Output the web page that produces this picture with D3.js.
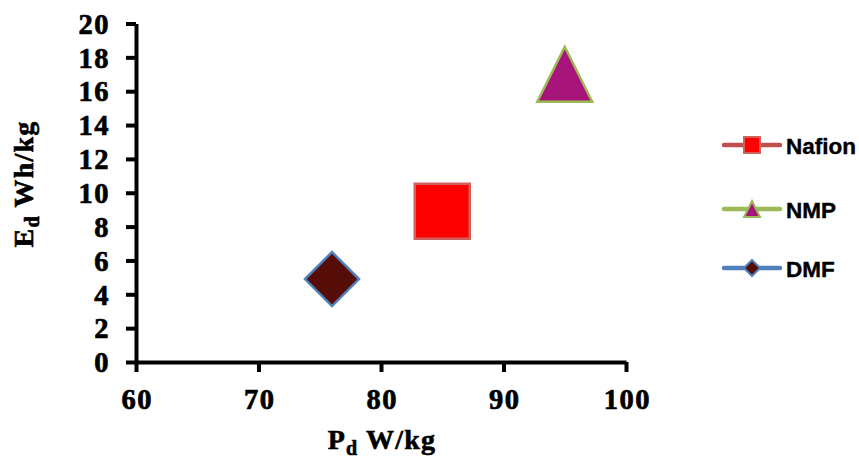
<!DOCTYPE html>
<html>
<head>
<meta charset="utf-8">
<script src="https://cdn.jsdelivr.net/npm/d3@7"></script>
<style>
  html, body { margin: 0; padding: 0; background: #fff; }
  svg { display: block; }
</style>
</head>
<body>
<svg id="chart" width="859" height="466"></svg>
<script>
// ---- data ----
const seriesNames = ["Nafion", "NMP", "DMF"];
const powerDensity = [85, 95, 76];      // P_d W/kg
const energyDensity = [8.9, 17, 4.9];   // E_d Wh/kg
const xTicks = [60, 70, 80, 90, 100];
const yTicks = [0, 2, 4, 6, 8, 10, 12, 14, 16, 18, 20];

// ---- styles ----
const fills   = { Nafion: "#FF0000", NMP: "#A8157A", DMF: "#560D07" };
const strokes = { Nafion: "#D0605C", NMP: "#9BBB59", DMF: "#4F81BD" };
const lines   = { Nafion: "#C0504D", NMP: "#9BBB59", DMF: "#4F81BD" };
const shapes  = { Nafion: "square", NMP: "triangle", DMF: "diamond" };

const svg = d3.select("#chart");
const x = d3.scaleLinear().domain([60, 100]).range([136, 626]);
const y = d3.scaleLinear().domain([0, 20]).range([362, 23.5]);

function shapePath(kind, s) {
  const p = d3.path(), h = s / 2;
  if (kind === "square") {
    p.rect(-h, -h, s, s);
  } else if (kind === "triangle") {
    p.moveTo(0, -h); p.lineTo(h, h); p.lineTo(-h, h); p.closePath();
  } else {
    p.moveTo(0, -h); p.lineTo(h, 0); p.lineTo(0, h); p.lineTo(-h, 0); p.closePath();
  }
  return p.toString();
}

// axes
const serif = "'Liberation Serif','Times New Roman',serif";
const xAxis = svg.append("g").attr("transform", `translate(0,${y(0)})`)
  .call(d3.axisBottom(x).tickValues(xTicks).tickSize(10).tickSizeOuter(0).tickPadding(10));
const yAxis = svg.append("g").attr("transform", `translate(${x(60)},0)`)
  .call(d3.axisLeft(y).tickValues(yTicks).tickSize(10).tickSizeOuter(0).tickPadding(16));
[xAxis, yAxis].forEach(a => {
  a.select(".domain").attr("stroke", "#000").attr("stroke-width", 4);
  a.selectAll(".tick line").attr("stroke", "#000").attr("stroke-width", 4);
  a.selectAll(".tick text").attr("fill", "#000").attr("stroke", "#000").attr("stroke-width", 0.7)
    .style("font-family", serif).style("font-weight", "bold").style("font-size", "28.5px")
    .style("letter-spacing", "1.5px");
});
xAxis.selectAll(".tick text").attr("dy", "0.95em").attr("dx", "0.75");
yAxis.selectAll(".tick text").attr("dy", "0.34em");

// axis titles
const xt = svg.append("text").attr("x", 382).attr("y", 449).attr("text-anchor", "middle")
  .attr("stroke", "#000").attr("stroke-width", 0.6)
  .style("font-family", serif).style("font-weight", "bold").style("font-size", "28px")
  .style("letter-spacing", "1.2px");
xt.append("tspan").text("P");
xt.append("tspan").attr("dy", 6).style("font-size", "20px").text("d");
xt.append("tspan").attr("dy", -6).text(" W/kg");

const yt = svg.append("text").attr("transform", "translate(33,184) rotate(-90)")
  .attr("text-anchor", "middle")
  .attr("stroke", "#000").attr("stroke-width", 0.6)
  .style("font-family", serif).style("font-weight", "bold").style("font-size", "28px")
  .style("letter-spacing", "1.2px");
yt.append("tspan").text("E");
yt.append("tspan").attr("dy", 6).style("font-size", "20px").text("d");
yt.append("tspan").attr("dy", -6).text(" Wh/kg");

// markers
const sizes = { square: 55, triangle: 55, diamond: 54 };
seriesNames.forEach((name, i) => {
  svg.append("path")
    .attr("d", shapePath(shapes[name], sizes[shapes[name]]))
    .attr("transform", `translate(${x(powerDensity[i])},${y(energyDensity[i])})`)
    .attr("fill", fills[name]).attr("stroke", strokes[name]).attr("stroke-width", 2.5);
});

// legend
const legendY = [145, 209, 268];
const lg = svg.append("g");
seriesNames.forEach((name, i) => {
  const g = lg.append("g").attr("transform", `translate(0,${legendY[i]})`);
  g.append("line").attr("x1", 724).attr("x2", 780).attr("y1", 0).attr("y2", 0)
    .attr("stroke", lines[name]).attr("stroke-width", 4.5).attr("stroke-linecap", "round");
  g.append("path").attr("d", shapePath(shapes[name], 16))
    .attr("transform", "translate(752,0)")
    .attr("fill", fills[name]).attr("stroke", strokes[name]).attr("stroke-width", 2);
  g.append("text").attr("x", 786).attr("y", 8.5).text(name)
    .attr("stroke", "#000").attr("stroke-width", 0.4)
    .style("font-family", "'Liberation Sans',Arial,sans-serif").style("font-weight", "bold")
    .style("font-size", "22.5px").attr("fill", "#000");
});
</script>
</body>
</html>
